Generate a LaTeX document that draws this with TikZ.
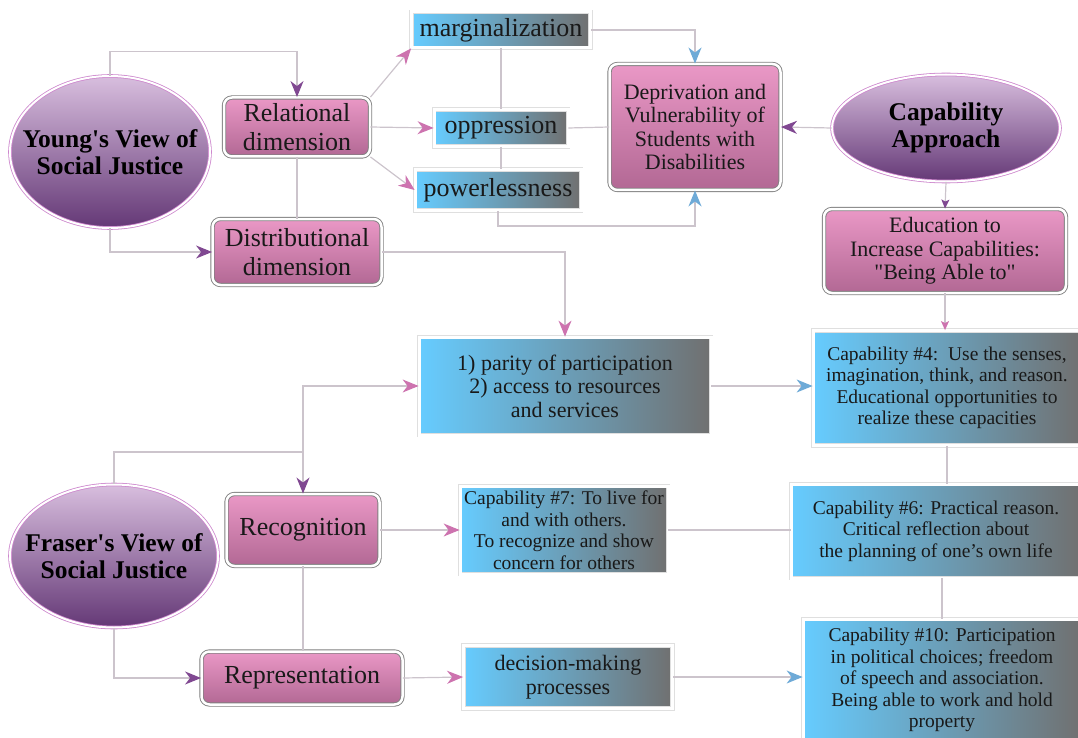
\documentclass[tikz,border=0pt]{standalone}
\usepackage{fontspec}
\setmainfont{LiberationSerif}[Extension=.ttf,UprightFont=*-Regular,BoldFont=*-Bold,ItalicFont=*-Italic,BoldItalicFont=*-BoldItalic]
\usetikzlibrary{shapes.geometric,arrows.meta}
\definecolor{pinktop}{RGB}{234,152,198}
\definecolor{pinkbot}{RGB}{178,104,148}
\definecolor{elltop}{RGB}{216,190,222}
\definecolor{ellbot}{RGB}{100,56,118}
\definecolor{ellrim}{RGB}{205,135,205}
\definecolor{blueleft}{RGB}{102,204,255}
\definecolor{blueright}{RGB}{112,112,112}
\definecolor{linegray}{RGB}{204,196,204}
\definecolor{arrpurple}{RGB}{128,72,145}
\definecolor{arrpink}{RGB}{205,115,175}
\definecolor{arrblue}{RGB}{110,170,215}
\begin{document}
\begin{tikzpicture}[x=1pt,y=-1pt,
  bigtxt/.style={font=\fontsize{26}{29}\selectfont},
  midtxt/.style={font=\fontsize{22}{23.5}\selectfont},
  smalltxt/.style={font=\fontsize{19.5}{21.5}\selectfont},
  titletxt/.style={font=\fontsize{25.5}{27}\selectfont\bfseries},
  pinkbox/.style={rectangle,rounded corners=8pt,top color=pinktop,bottom color=pinkbot,
    draw=gray,double=white,double distance=2.5pt,line width=0.9pt,inner sep=0pt,align=center,text=black!90},
  bluebox/.style={rectangle,left color=blueleft,right color=blueright,
    draw=gray!25,double=white,double distance=3pt,line width=0.8pt,inner sep=0pt,align=center,text=black!90},
  viewell/.style={ellipse,top color=elltop,bottom color=ellbot,
    draw=ellrim,double=white,double distance=2pt,line width=0.8pt,inner ysep=0pt,inner xsep=-30pt,align=center,titletxt},
  conn/.style={draw=linegray,line width=1.2pt},
  purarrow/.style={-{Stealth[length=16pt,width=13pt,inset=5pt,color=arrpurple]}},
  pinkarrow/.style={-{Stealth[length=16pt,width=13pt,inset=5pt,color=arrpink]}},
  bluearrow/.style={-{Stealth[length=16pt,width=13pt,inset=5pt,color=arrblue]}},
  smallpur/.style={-{Stealth[length=9pt,width=8pt,inset=2pt,color=arrpurple]}},
  smallpink/.style={-{Stealth[length=9pt,width=8pt,inset=2pt,color=arrpink]}}]
\clip (0,0) rectangle (1078,738);
% Young and the capability approach
\node[viewell,minimum width=200,minimum height=152] (young) at (110,152) {Young\textquotesingle s View of\\Social Justice};
\node[viewell,minimum width=228,minimum height=107] (capapp) at (946,128) {Capability\\Approach};
\node[pinkbox,bigtxt,minimum width=146,minimum height=59] (relational) at (297,127) {Relational\\dimension};
\node[pinkbox,bigtxt,minimum width=169,minimum height=66] (distrib) at (297,252) {Distributional\\dimension};
\node[bluebox,bigtxt,minimum width=179,minimum height=36] (margin) at (501,30) {marginalization};
\node[bluebox,bigtxt,minimum width=134,minimum height=37] (oppress) at (501,128) {oppression};
\node[bluebox,bigtxt,minimum width=166,minimum height=41] (powerless) at (498,190) {powerlessness};
\node[pinkbox,midtxt,minimum width=171,minimum height=126] (depriv) at (695,127) {Deprivation and\\Vulnerability of\\Students with\\Disabilities};
\node[pinkbox,midtxt,minimum width=242,minimum height=84] (educ) at (945,251) {Education to\\Increase Capabilities:\\\textquotedbl Being Able to\textquotedbl};
% Fraser
\node[viewell,minimum width=208,minimum height=143] (fraser) at (114,556) {Fraser\textquotesingle s View of\\Social Justice};
\node[pinkbox,bigtxt,minimum width=153,minimum height=72] (recog) at (303,530) {Recognition};
\node[pinkbox,bigtxt,minimum width=201,minimum height=53] (repr) at (302,678) {Representation};
\node[bluebox,midtxt,minimum width=292,minimum height=98] (parity) at (565,386) {1) parity of participation\\2) access to resources\\and services};
\node[bluebox,smalltxt,minimum width=208,minimum height=88] (cap7) at (564,530) {Capability \#7: To live for\\and with others.\\To recognize and show\\concern for others};
\node[bluebox,midtxt,minimum width=209,minimum height=63] (decision) at (568,677) {decision-making\\processes};
\node[bluebox,smalltxt,minimum width=268,minimum height=115] (cap4) at (947,388) {Capability \#4:\ \ Use the senses,\\imagination, think, and reason.\\Educational opportunities to\\realize these capacities};
\node[bluebox,smalltxt,minimum width=290,minimum height=94] (cap6) at (936,531) {Capability \#6: Practical reason.\\Critical reflection about\\the planning of one's own life};
\node[bluebox,smalltxt,minimum width=278,minimum height=122] (cap10) at (942,680) {Capability \#10: Participation\\in political choices; freedom\\of speech and association.\\Being able to work and hold\\property};
% connectors
\draw[conn,purarrow] (young.north) -- ++(0,-24) -| (relational.north);
\draw[conn,purarrow] (young.south) |- (distrib.west);
\draw[conn] (relational.south) -- (distrib.north);
\draw[conn,pinkarrow] (relational.north east) -- (margin.south west);
\draw[conn,pinkarrow] (relational.east) -- (oppress.west);
\draw[conn,pinkarrow] (relational.south east) -- (powerless.west);
\draw[conn] (margin.south) -- (oppress.north);
\draw[conn] (oppress.south) -- (oppress.south |- powerless.north);
\draw[conn,bluearrow] (margin.east) -| (depriv.north);
\draw[conn] (oppress.east) -- (depriv.west);
\draw[conn,bluearrow] (powerless.south) -- ++(0,15) -| (depriv.south);
\draw[conn,purarrow] (capapp.west) -- (depriv.east);
\draw[conn,smallpur] (capapp.south) -- (educ.north);
\draw[conn,smallpink] (educ.south) -- (educ.south |- cap4.north);
\draw[conn,pinkarrow] (distrib.east) -| (parity.north);
\coordinate (fsplit) at (303,452);
\draw[conn] (fraser.north) |- (fsplit);
\draw[conn,purarrow] (fsplit) -- (recog.north);
\draw[conn,pinkarrow] (fsplit) |- (parity.west);
\draw[conn,purarrow] (fraser.south) |- (repr.west);
\draw[conn] (recog.south) -- (recog.south |- repr.north);
\draw[conn,pinkarrow] (recog.east) -- (cap7.west);
\draw[conn,pinkarrow] (repr.east) -- (decision.west);
\draw[conn,bluearrow] (parity.east) -- (parity.east -| cap4.west);
\draw[conn,bluearrow] (decision.east) -- (decision.east -| cap10.west);
\draw[conn] (cap7.east) -- (cap7.east -| cap6.west);
\draw[conn] (cap4.south) -- (cap4.south |- cap6.north);
\draw[conn] (cap10.north) -- (cap10.north |- cap6.south);
\end{tikzpicture}
\end{document}
